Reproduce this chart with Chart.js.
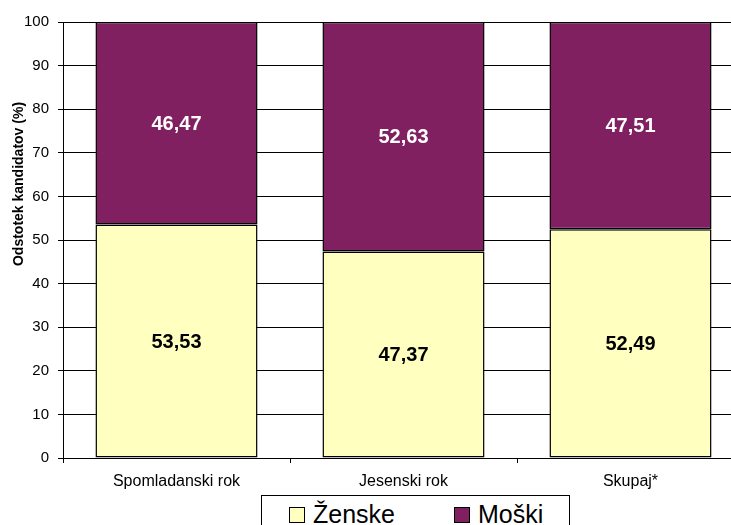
<!DOCTYPE html>
<html>
<head>
<meta charset="utf-8">
<script src="https://cdn.jsdelivr.net/npm/chart.js@4/dist/chart.umd.min.js"></script>
<style>
  html, body { margin: 0; padding: 0; background: #fff; overflow: hidden; }
  #wrap { position: relative; width: 760px; height: 525px; }
  #legend {
    position: absolute; left: 261px; top: 495px; width: 307px; height: 40px;
    border: 1px solid #000; background: #fff;
    font-family: Arial, "Liberation Sans", sans-serif; font-size: 25px; color: #000;
  }
  #legend .item { position: absolute; top: 3px; line-height: 30px; white-space: nowrap; }
  #legend .sw { display: inline-block; width: 14px; height: 14px; border: 1px solid #000; margin-right: 8px; vertical-align: 0px; }
</style>
</head>
<body>
<div id="wrap">
  <canvas id="chart" width="760" height="525"></canvas>
  <div id="legend"></div>
</div>
<script>
// ─── DATA ────────────────────────────────────────────────────────────────
var categories = ['Spomladanski rok', 'Jesenski rok', 'Skupaj*'];
var zenske = [53.53, 47.37, 52.49];
var moski  = [46.47, 52.63, 47.51];
var yTicks = [0, 10, 20, 30, 40, 50, 60, 70, 80, 90, 100];

var FONT = 'Arial, "Liberation Sans", sans-serif';
var YELLOW = '#FFFFC0';
var PURPLE = '#802060';

// ── value labels in the middle of each bar ───────────────────────────────
var valueLabels = {
  id: 'valueLabels',
  afterDatasetsDraw: function(chart) {
    var ctx = chart.ctx;
    ctx.save();
    ctx.font = 'bold 20px ' + FONT;
    ctx.textAlign = 'center';
    ctx.textBaseline = 'middle';
    chart.data.datasets.forEach(function(ds, di) {
      chart.getDatasetMeta(di).data.forEach(function(bar, i) {
        var mid = (bar.y + bar.base) / 2;
        ctx.fillStyle = di === 0 ? '#000' : '#fff';
        ctx.fillText(ds.data[i].toFixed(2).replace('.', ','), bar.x, mid + 1);
      });
    });
    ctx.restore();
  }
};

// ── y axis title (sits a bit above the plot centre, like the original) ───
var yTitle = {
  id: 'yTitle',
  afterDraw: function(chart) {
    var ctx = chart.ctx;
    ctx.save();
    ctx.translate(19, 184);
    ctx.rotate(-Math.PI / 2);
    ctx.font = 'bold 14px ' + FONT;
    ctx.fillStyle = '#000';
    ctx.textAlign = 'center';
    ctx.textBaseline = 'middle';
    ctx.fillText('Odstotek kandidatov (%)', 0, 0);
    ctx.restore();
  }
};

new Chart(document.getElementById('chart'), {
  type: 'bar',
  data: {
    labels: categories,
    datasets: [
      { label: 'Ženske', data: zenske, backgroundColor: YELLOW, borderColor: '#000', borderWidth: 1.5, borderSkipped: false },
      { label: 'Moški', data: moski, backgroundColor: PURPLE, borderColor: '#000', borderWidth: 1.5, borderSkipped: false }
    ]
  },
  options: {
    responsive: false,
    animation: false,
    layout: { padding: { top: 22, right: 16, left: 0, bottom: 0 } },
    datasets: { bar: { categoryPercentage: 1, barPercentage: 0.714 } },
    plugins: { legend: { display: false }, tooltip: { enabled: false } },
    scales: {
      x: {
        stacked: true,
        afterFit: function(s) { s.height = 67; },
        grid: { drawOnChartArea: false, color: '#000', tickLength: 5, offset: true },
        border: { color: '#000' },
        ticks: { color: '#000', padding: 9, font: { size: 16, family: FONT } }
      },
      y: {
        stacked: true,
        min: 0, max: 100,
        afterFit: function(s) { s.width = 63; },
        afterBuildTicks: function(s) { s.ticks = yTicks.map(function(v) { return { value: v }; }); },
        grid: { color: '#000', tickLength: 5 },
        border: { color: '#000' },
        ticks: { color: '#000', padding: 9, font: { size: 15, family: FONT } }
      }
    }
  },
  plugins: [valueLabels, yTitle]
});

// ── legend as plain html ─────────────────────────────────────────────────
var legendItems = [
  { text: 'Ženske', color: YELLOW, left: 27 },
  { text: 'Moški', color: PURPLE, left: 192 }
];
var lg = document.getElementById('legend');
legendItems.forEach(function(it) {
  var d = document.createElement('div');
  d.className = 'item';
  d.style.left = it.left + 'px';
  d.innerHTML = '<span class="sw" style="background:' + it.color + '"></span>' + it.text;
  lg.appendChild(d);
});
</script>
</body>
</html>
